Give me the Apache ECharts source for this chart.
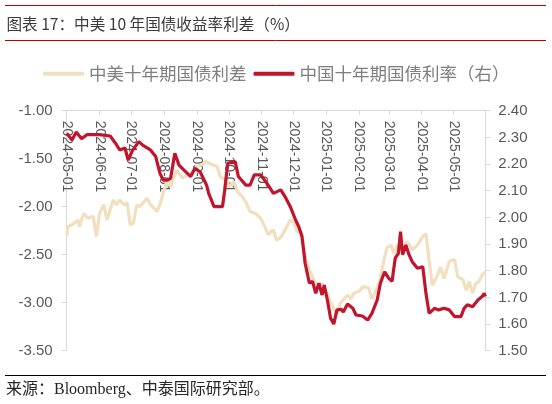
<!DOCTYPE html>
<html>
<head>
<meta charset="utf-8">
<script src="https://cdn.jsdelivr.net/npm/echarts@6/dist/echarts.min.js"></script>
<style>
html,body{margin:0;padding:0;background:#fff;}
#c{width:552px;height:404px;}
</style>
</head>
<body>
<div id="c"></div>
<script>
// ---- Data ----
const titleText = '图表 17：中美 10 年国债收益率利差（%）';
const sourceText = '来源：Bloomberg、中泰国际研究部。';
const seriesNames = ['中美十年期国债利差', '中国十年期国债利率（右）'];

const tickDates = ['2024-05-01','2024-06-01','2024-07-01','2024-08-01','2024-09-01','2024-10-01',
  '2024-11-01','2024-12-01','2025-01-01','2025-02-01','2025-03-01','2025-04-01','2025-05-01'];
const xMin = '2024-05-01';
const xMax = '2025-05-31';

const spreadDates = ['2024-05-01','2024-05-02','2024-05-07','2024-05-12','2024-05-13','2024-05-17','2024-05-21','2024-05-26','2024-05-29',
  '2024-06-01','2024-06-05','2024-06-08','2024-06-11','2024-06-14','2024-06-17','2024-06-20','2024-06-24','2024-06-27','2024-06-30',
  '2024-07-03','2024-07-06','2024-07-09','2024-07-12','2024-07-16','2024-07-19','2024-07-22','2024-07-25','2024-07-28','2024-07-31',
  '2024-08-04','2024-08-07','2024-08-10','2024-08-13','2024-08-18','2024-08-23','2024-08-28',
  '2024-09-01','2024-09-06','2024-09-09','2024-09-15','2024-09-20','2024-09-23','2024-09-28',
  '2024-10-01','2024-10-06','2024-10-09','2024-10-14','2024-10-17','2024-10-21','2024-10-26','2024-10-31',
  '2024-11-04','2024-11-07','2024-11-12','2024-11-15','2024-11-19','2024-11-23','2024-11-28',
  '2024-12-01','2024-12-04','2024-12-09','2024-12-12','2024-12-16','2024-12-20','2024-12-23','2024-12-28','2024-12-31',
  '2025-01-03','2025-01-07','2025-01-11','2025-01-14','2025-01-17','2025-01-21','2025-01-24','2025-01-27',
  '2025-02-01','2025-02-05','2025-02-10','2025-02-13','2025-02-16','2025-02-20','2025-02-23','2025-02-27',
  '2025-03-03','2025-03-06','2025-03-09','2025-03-14','2025-03-18','2025-03-23','2025-03-28',
  '2025-04-02','2025-04-05','2025-04-08','2025-04-11','2025-04-16','2025-04-19','2025-04-22','2025-04-27',
  '2025-05-02','2025-05-05','2025-05-10','2025-05-13','2025-05-16','2025-05-19','2025-05-22','2025-05-25','2025-05-28','2025-05-31'];
const spreadValues = [-2.31,-2.21,-2.18,-2.14,-2.21,-2.07,-2.12,-2.10,-2.31,
  -2.07,-1.98,-2.14,-2.03,-1.93,-1.98,-1.93,-1.98,-1.96,-2.19,
  -2.17,-1.98,-2.00,-1.96,-1.91,-1.98,-2.01,-2.05,-1.98,-1.86,
  -1.72,-1.79,-1.69,-1.62,-1.70,-1.67,-1.64,
  -1.58,-1.56,-1.53,-1.56,-1.58,-1.69,-1.72,
  -1.79,-1.74,-1.84,-1.90,-1.95,-2.05,-2.07,-2.12,
  -2.21,-2.29,-2.24,-2.35,-2.32,-2.24,-2.14,
  -2.16,-2.25,-2.28,-2.52,-2.66,-2.76,-2.83,-2.80,-2.87,
  -2.94,-3.04,-3.13,-3.01,-2.97,-2.92,-2.96,-2.90,
  -2.88,-2.83,-2.85,-2.96,-2.90,-2.78,-2.63,-2.43,
  -2.40,-2.49,-2.40,-2.49,-2.36,-2.45,-2.40,
  -2.31,-2.28,-2.56,-2.82,-2.71,-2.63,-2.75,-2.57,
  -2.55,-2.73,-2.76,-2.87,-2.78,-2.90,-2.80,-2.78,-2.71,-2.68];

const cnDates = ['2024-05-01','2024-05-06','2024-05-10','2024-05-15','2024-05-20',
  '2024-06-01','2024-06-11','2024-06-16','2024-06-20','2024-06-25','2024-06-28',
  '2024-07-02','2024-07-08','2024-07-12','2024-07-19','2024-07-24','2024-07-28','2024-07-31',
  '2024-08-04','2024-08-07','2024-08-11','2024-08-15','2024-08-19','2024-08-26','2024-08-30',
  '2024-09-04','2024-09-10','2024-09-12','2024-09-17','2024-09-25','2024-09-27','2024-09-30',
  '2024-10-07','2024-10-10','2024-10-17','2024-10-21','2024-10-25','2024-10-31',
  '2024-11-06','2024-11-12','2024-11-19','2024-11-23','2024-11-28',
  '2024-12-03','2024-12-06','2024-12-09','2024-12-12','2024-12-16','2024-12-19','2024-12-22','2024-12-25','2024-12-28','2024-12-30',
  '2025-01-02','2025-01-05','2025-01-08','2025-01-11','2025-01-15','2025-01-17','2025-01-21','2025-01-26','2025-01-29',
  '2025-02-04','2025-02-09','2025-02-13','2025-02-18','2025-02-21','2025-02-25',
  '2025-03-01','2025-03-04','2025-03-07','2025-03-10','2025-03-12','2025-03-14','2025-03-17','2025-03-20','2025-03-23','2025-03-28',
  '2025-04-02','2025-04-05','2025-04-08','2025-04-13','2025-04-17','2025-04-22','2025-04-27',
  '2025-05-02','2025-05-08','2025-05-11','2025-05-14','2025-05-19','2025-05-24','2025-05-28','2025-05-30','2025-05-31'];
const cnValues = [2.315,2.29,2.32,2.295,2.31,
  2.31,2.305,2.278,2.253,2.26,2.215,
  2.25,2.284,2.27,2.253,2.228,2.165,2.14,
  2.14,2.146,2.24,2.196,2.18,2.153,2.184,
  2.17,2.121,2.09,2.04,2.04,2.10,2.203,
  2.209,2.153,2.121,2.121,2.159,2.159,
  2.128,2.09,2.103,2.078,2.04,
  1.99,1.965,1.928,1.828,1.753,1.76,1.715,1.753,1.709,1.746,
  1.69,1.622,1.60,1.653,1.655,1.645,1.675,1.659,1.634,
  1.63,1.615,1.64,1.69,1.753,1.796,
  1.771,1.76,1.847,1.865,1.946,1.86,1.896,1.86,1.834,1.809,
  1.815,1.715,1.64,1.659,1.653,1.659,1.653,
  1.628,1.628,1.659,1.672,1.665,1.69,1.703,1.715,1.703];

// ---- Chart ----
const DAY = 86400000;
const baseT = Date.UTC(2024, 4, 1);
const dayOf = s => { const p = s.split('-').map(Number); return Math.round((Date.UTC(p[0], p[1]-1, p[2]) - baseT) / DAY); };
const dateOf = d => { const t = new Date(baseT + d * DAY); return t.toISOString().slice(0, 10); };
const zip = (d, v) => d.map((x, i) => [dayOf(x), v[i]]);
const tickVals = tickDates.map(dayOf);

const TAN = '#f1dfbf';
const RED = '#c0152d';
const AX = '#d9d9d9';
const LBL = '#595959';
const FONT = '"Liberation Sans","Noto Sans CJK SC",sans-serif';

const chart = echarts.init(document.getElementById('c'), null, {renderer: 'canvas'});
chart.setOption({
  animation: false,
  backgroundColor: '#fff',
  grid: {left: 66.7, right: 66.7, top: 110.7, bottom: 53.3},
  legend: {
    left: 38, top: 60,
    itemWidth: 41, itemHeight: 4, itemGap: 7,
    icon: 'roundRect',
    textStyle: {color: '#7f7f7f', fontSize: 17.5, fontFamily: '"Noto Sans CJK SC",sans-serif'},
    data: seriesNames
  },
  xAxis: {
    type: 'value', position: 'top',
    min: dayOf(xMin), max: dayOf(xMax),
    axisLine: {show: true, onZero: false, lineStyle: {color: AX, width: 1}},
    axisTick: {show: true, inside: true, length: 4, lineStyle: {color: AX}, customValues: tickVals},
    axisLabel: {
      inside: true, rotate: 90, margin: 10,
      color: LBL, fontSize: 14, fontFamily: FONT,
      customValues: tickVals,
      formatter: v => dateOf(v)
    },
    splitLine: {show: false}
  },
  yAxis: [
    {
      type: 'value', min: -3.5, max: -1, interval: 0.5,
      axisLine: {show: true, onZero: false, lineStyle: {color: AX}},
      axisTick: {show: true, length: 5, lineStyle: {color: AX}},
      axisLabel: {color: LBL, fontSize: 15, fontFamily: FONT, margin: 14, formatter: v => v.toFixed(2)},
      splitLine: {show: false}
    },
    {
      type: 'value', min: 1.5, max: 2.4, interval: 0.1,
      axisLine: {show: true, onZero: false, lineStyle: {color: AX}},
      axisTick: {show: true, length: 5, lineStyle: {color: AX}},
      axisLabel: {color: LBL, fontSize: 15, fontFamily: FONT, margin: 13, formatter: v => v.toFixed(2)},
      splitLine: {show: false}
    }
  ],
  series: [
    {
      name: seriesNames[0], type: 'line', yAxisIndex: 0,
      data: zip(spreadDates, spreadValues),
      showSymbol: false, symbol: 'none',
      lineStyle: {color: TAN, width: 3.2}, itemStyle: {color: TAN}
    },
    {
      name: seriesNames[1], type: 'line', yAxisIndex: 1,
      data: zip(cnDates, cnValues),
      showSymbol: false, symbol: 'none',
      lineStyle: {color: RED, width: 3.2}, itemStyle: {color: RED}
    }
  ],
  graphic: [
    {type: 'line', shape: {x1: 5, y1: 5.5, x2: 546, y2: 5.5}, style: {stroke: '#c00000', lineWidth: 1}},
    {type: 'line', shape: {x1: 5, y1: 40.5, x2: 546, y2: 40.5}, style: {stroke: '#c00000', lineWidth: 1}},
    {type: 'text', x: 6.5, y: 24, style: {text: titleText, fill: '#3a3a3a', fontSize: 15.6,
      fontFamily: '"Noto Sans CJK SC",sans-serif', verticalAlign: 'middle', align: 'left'}},
    {type: 'line', shape: {x1: 5, y1: 375.5, x2: 546, y2: 375.5}, style: {stroke: '#000', lineWidth: 1.2}},
    {type: 'text', x: 6, y: 390, style: {text: sourceText, fill: '#262626', fontSize: 16,
      fontFamily: '"Liberation Serif","Noto Sans CJK SC",serif', verticalAlign: 'middle', align: 'left'}}
  ]
});
</script>
</body>
</html>
